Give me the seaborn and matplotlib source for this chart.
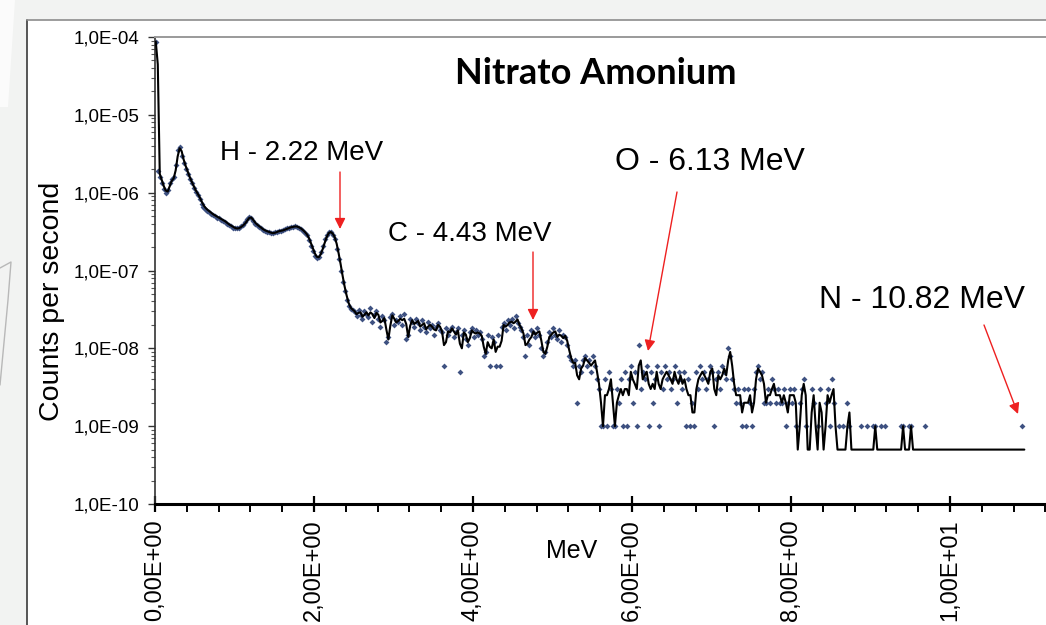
import numpy as np
import pandas as pd
import matplotlib
matplotlib.use("Agg")
import matplotlib.pyplot as plt
from matplotlib.ticker import MultipleLocator, FuncFormatter, LogLocator, NullFormatter
from matplotlib.patches import Rectangle
from matplotlib.lines import Line2D
import seaborn as sns

# ---------------- data ----------------
title = "Nitrato Amonium"
x_label = "MeV"
y_label = "Counts per second"

energy_offset_mev = 0.01      # energy of channel 0
channel_width_mev = 0.025     # channel width
count_unit_cps = 1e-9         # one count in counts per second

# counts per channel (units of 1e-9 cps)
counts_low = [87000, 1900, 1580, 1320, 1120, 1000, 1070, 1350, 1480, 1580,
              2290, 3550, 3890, 2950, 2400, 2040, 1740, 1480, 1320, 1150,
              1020, 933, 832, 724, 661, 617, 589, 562, 537, 513,
              501, 479, 468, 447, 437, 417, 398, 380, 372, 355,
              347, 347, 355, 372, 389, 417, 457, 490, 468, 427,
              398, 380, 363, 347, 331, 324, 316, 309, 302, 302,
              309, 316, 324, 324, 331, 339, 347, 355, 363, 363,
              372, 363, 355, 339, 324, 302, 282, 245, 209, 178,
              155, 145, 151, 174, 204, 251, 288, 316, 309, 288,
              251, 191, 141, 100, 71, 54, 42, 35, 32, 31]
counts_mid = [29, 26, 31, 27, 24, 30, 28, 25, 33, 22, 27, 30,
              24, 19, 26, 23, 12, 14, 25, 28, 20, 23, 22, 26, 20, 28, 13, 15, 24, 22, 19, 24,
              21, 17, 23, 19, 16, 22, 18, 20, 15, 19, 21, 17,
              16, 6, 18, 15, 17, 19, 14, 16, 18, 5, 15, 17, 13, 11, 16, 18, 14, 17, 15, 16,
              13, 8, 9, 15, 6, 14, 12, 6,
              15, 6, 19, 21, 17, 23, 20, 24, 18, 26, 21, 19,
              17, 14, 8, 15, 11, 17, 16, 14, 18, 15,
              10, 8, 9, 12,
              16, 14, 18, 15, 13, 17, 12, 15, 14, 11,
              8, 7, 6, 7]
counts_high = [2,
               6, 5, 7, 8, 6, 7, 5, 8, 6, 4, 3,
               1, 1,
               4, 1, 5, 3, 1, 1, 3, 2, 4, 1,
               5, 1, 4, 6, 2, 5, 1, 11, 3, 5, 4, 6, 1, 5, 2, 4, 6, 1, 5, 3, 6, 4,
               5, 3, 4, 6, 2, 5, 4, 3, 5, 1, 4, 1, 2,
               1, 5, 3, 6, 4, 5, 3, 4, 6, 5, 1, 4, 5, 3, 6, 5, 4,
               10, 8,
               4, 3, 2, 3, 2, 1, 3, 1, 3, 2, 1, 3,
               5, 6, 4, 5,
               2, 2, 3, 2,
               4,
               3, 2, 3, 2, 2, 3, 1, 2, 3, 2, 3, 1, 0,
               2, 3, 4, 1, 0, 0, 3, 2, 0, 1, 3, 0, 0, 2, 3, 1, 4, 2, 0, 0,
               1, 0, 1, 0, 2, 1, 0, 0]
counts_tail = ([0, 0, 0, 1, 0, 0, 1, 0, 0, 1, 1, 0, 0, 1, 0, 1]
               + [0, 0, 0, 0, 0, 0, 0]
               + [1, 1, 0, 0, 1, 1, 0]
               + [0, 0, 0, 0, 0]
               + [1]
               + [0, 0, 0, 0, 0, 0, 0, 0, 0, 0, 0, 0, 0, 0, 0, 0,
                  0, 0, 0, 0, 0, 0, 0, 0, 0, 0, 0, 0, 0, 0, 0, 0,
                  0, 0, 0, 0, 0, 0, 0, 0, 0, 0, 0, 0, 0, 0, 0, 0]
               + [1, 0])

peak_labels = ["H - 2.22 MeV", "C - 4.43 MeV", "O - 6.13 MeV", "N - 10.82 MeV"]
# ---------------------------------------

counts = np.array(counts_low + counts_mid + counts_high + counts_tail, dtype=float)
channel = np.arange(len(counts))
energy = energy_offset_mev + channel_width_mev * channel
cps = counts * count_unit_cps

df = pd.DataFrame({"MeV": energy, "cps": cps})
# 2-period moving average trendline (as in the original spreadsheet chart)
df["trend"] = df["cps"].rolling(2, min_periods=1).mean().clip(lower=0.5 * count_unit_cps)
dots = df[df["cps"] > 0]

sns.set_theme(style="white")
plt.rcParams["font.family"] = ["Liberation Sans", "DejaVu Sans"]
for k in ["text.color", "axes.labelcolor", "xtick.color", "ytick.color"]:
    plt.rcParams[k] = "black"

W, H = 1046, 625
fig = plt.figure(figsize=(W / 100, H / 100), dpi=100)
fig.patch.set_facecolor("#f2f3f2")

def fx(px):
    return px / W

def fy(py):
    return 1 - py / H

# white chart panel with borders (drawn beneath the axes)
fig.patches.append(Rectangle((fx(27), 0), fx(W - 27), fy(20), transform=fig.transFigure,
                             facecolor="white", edgecolor="none", zorder=-2))
fig.lines.append(Line2D([fx(27), fx(27)], [0, fy(20)], transform=fig.transFigure,
                        color="#3a3a3a", lw=1.2, zorder=-1))
fig.lines.append(Line2D([fx(27), 1], [fy(20), fy(20)], transform=fig.transFigure,
                        color="#8c8c8c", lw=1.2, zorder=-1))
# faint decoration on the slide background
fig.patches.append(plt.Polygon([[0, fy(0)], [fx(15), fy(0)], [fx(8), fy(107)], [0, fy(107)]],
                               closed=True, transform=fig.transFigure,
                               facecolor="#fbfbfb", edgecolor="none", zorder=-2))
fig.lines.append(Line2D([0, fx(11), fx(8), 0], [fy(268), fy(262), fy(300), fy(385)],
                        transform=fig.transFigure, color="#b8b8b8", lw=1.0, zorder=-1))

ax_left, ax_top, ax_bottom = 155, 37, 504
px_per_mev = 79.5
ax = fig.add_axes([fx(ax_left), fy(ax_bottom), fx(W - ax_left), (ax_bottom - ax_top) / H])
ax.set_zorder(1)
ax.set_facecolor("white")

sns.scatterplot(data=dots, x="MeV", y="cps", ax=ax, marker="D", s=9,
                color="#3e5181", linewidth=0, zorder=2)
sns.lineplot(data=df, x="MeV", y="trend", ax=ax, color="black", lw=1.5, zorder=3)

ax.set_yscale("log")
ax.set_ylim(1e-10, 1e-4)
ax.set_xlim(0, (W - ax_left) / px_per_mev)

ax.xaxis.set_major_locator(MultipleLocator(2))
ax.xaxis.set_minor_locator(MultipleLocator(0.4))
ax.yaxis.set_major_locator(LogLocator(base=10, numticks=10))
ax.yaxis.set_minor_locator(LogLocator(base=10, subs=np.arange(2, 10), numticks=20))
ax.yaxis.set_minor_formatter(NullFormatter())

def y_fmt(v, pos):
    e = int(round(np.log10(v)))
    return f"1,0E{e:+03d}"

def x_fmt(v, pos):
    if abs(v) < 1e-12:
        return "0,00E+00"
    e = int(np.floor(np.log10(abs(v))))
    m = v / 10 ** e
    return f"{m:.2f}".replace(".", ",") + f"E{e:+03d}"

ax.yaxis.set_major_formatter(FuncFormatter(y_fmt))
ax.xaxis.set_major_formatter(FuncFormatter(x_fmt))

ax.tick_params(axis="y", which="major", direction="out", length=5, width=1,
               color="#333333", labelsize=13.5, pad=6, left=True)
ax.tick_params(axis="y", which="minor", direction="out", length=3, width=0.8,
               color="#555555", left=True)
ax.tick_params(axis="x", which="major", direction="inout", length=12, width=1.6,
               color="black", labelsize=17, pad=5, labelrotation=90, bottom=True)
ax.tick_params(axis="x", which="minor", direction="out", length=6, width=1.4,
               color="black", bottom=True)
for lab in ax.get_xticklabels():
    lab.set_va("top")

ax.spines["left"].set_color("#333333")
ax.spines["left"].set_linewidth(1.2)
ax.spines["bottom"].set_color("black")
ax.spines["bottom"].set_linewidth(2.2)
ax.spines["top"].set_color("#9a9a9a")
ax.spines["top"].set_linewidth(1.4)
ax.spines["right"].set_visible(False)
ax.grid(False)

ax_w = W - ax_left
ax_h = ax_bottom - ax_top
ax.set_xlabel(x_label, fontsize=18)
ax.xaxis.set_label_coords((572 - ax_left) / ax_w, -(551 - ax_bottom) / ax_h)
ax.xaxis.label.set_va("center")
ax.set_ylabel(y_label, fontsize=20.5)
ax.yaxis.set_label_coords((52 - ax_left) / ax_w, (ax_bottom - 301) / ax_h)
ax.yaxis.label.set_va("center")

fig.text(fx(596), fy(73), title, ha="center", va="center", fontsize=26,
         fontweight="bold", color="black", family=["Lato", "DejaVu Sans"], zorder=5)

def to_data(px, py):
    return (px - ax_left) / px_per_mev, 10 ** (-4 - (py - ax_top) / (ax_h / 6))

label_pos = [(302, 153, 20), (470, 234, 20), (710, 162, 23), (922, 300, 23)]
arrows = [((340, 172), (340, 229)), ((533, 252), (533, 320)),
          ((677, 192), (648, 351)), ((984, 325), (1018, 414))]
for text, (tx, ty, fs), (start, tip) in zip(peak_labels, label_pos, arrows):
    fig.text(fx(tx), fy(ty), text, ha="center", va="center", fontsize=fs,
             color="black", zorder=5)
    ax.annotate("", xy=to_data(*tip), xytext=to_data(*start),
                arrowprops=dict(arrowstyle="-|>", color="#ee2020", lw=1.0,
                                mutation_scale=16, shrinkA=0, shrinkB=0),
                annotation_clip=False, zorder=5)

fig.savefig("out.png", dpi=100, facecolor=fig.get_facecolor())
